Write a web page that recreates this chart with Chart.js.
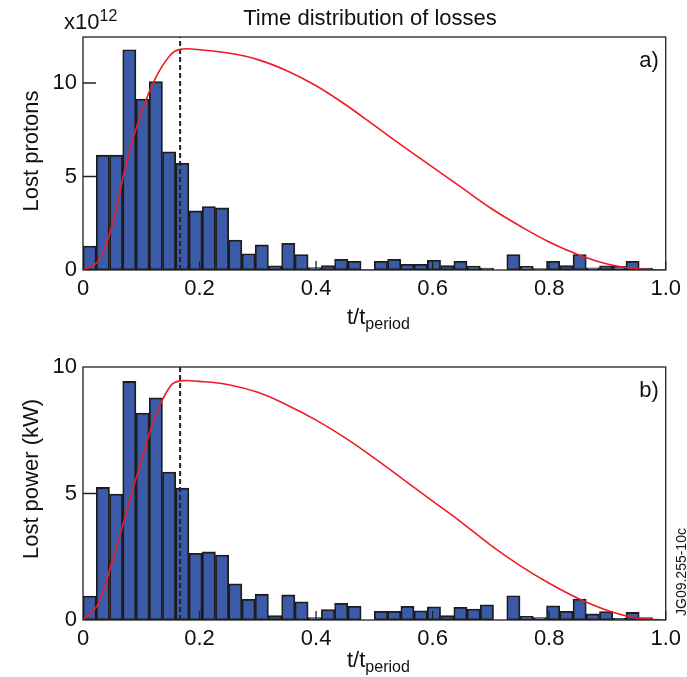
<!DOCTYPE html>
<html>
<head>
<meta charset="utf-8">
<script src="https://cdn.jsdelivr.net/npm/chart.js@4.4.1/dist/chart.umd.min.js"></script>
<style>
  html, body { margin: 0; padding: 0; background: #fff; }
  #wrap { position: relative; width: 687px; height: 677px; font-family: "Liberation Sans", Arial, sans-serif; color: #111; }
  canvas { position: absolute; left: 0; }
  .lbl { position: absolute; white-space: nowrap; line-height: 1; }
  .rot { transform: translate(-50%, -50%) rotate(-90deg); }
  .ctr { transform: translate(-50%, -50%); }
  sub, sup { font-size: 16px; line-height: 0; }
</style>
</head>
<body>
<div id="wrap">
  <canvas id="chart-a" width="687" height="338" style="top:0"></canvas>
  <canvas id="chart-b" width="687" height="339" style="top:338px"></canvas>

  <div class="lbl ctr" style="left:370px;top:18px;font-size:22px">Time distribution of losses</div>
  <div class="lbl" style="left:64px;top:11px;font-size:22px">x10<sup>12</sup></div>
  <div class="lbl ctr" style="left:649px;top:60px;font-size:22px">a)</div>
  <div class="lbl ctr" style="left:649px;top:390px;font-size:22px">b)</div>
  <div class="lbl rot" style="left:31px;top:151px;font-size:22px">Lost protons</div>
  <div class="lbl rot" style="left:31px;top:479px;font-size:22px">Lost power (kW)</div>
  <div class="lbl" style="left:347px;top:306px;font-size:22px">t/t<sub>period</sub></div>
  <div class="lbl" style="left:347px;top:649px;font-size:22px">t/t<sub>period</sub></div>
  <div class="lbl rot" style="left:681px;top:572px;font-size:14px">JG09.255-10c</div>
</div>

<script>
// --- histogram bins (t / t_period from 0 to 1) ---
const binCount = 44;
const binCenters = Array.from({ length: binCount }, (_, i) => (i + 0.5) / binCount);

// lost protons per bin (x10^12)
const lostProtons = [
  1.28, 6.14, 6.14, 11.78, 9.14, 10.08, 6.32, 5.71, 3.16, 3.39, 3.32,
  1.6, 0.87, 1.34, 0.22, 1.43, 0.82, 0.13, 0.23, 0.57, 0.47, 0.02,
  0.47, 0.57, 0.3, 0.3, 0.52, 0.23, 0.47, 0.21, 0.1, 0, 0.82,
  0.2, 0.07, 0.47, 0.23, 0.82, 0.12, 0.22, 0.2, 0.47, 0.1, 0
];

// lost power per bin (kW)
const lostPower = [
  0.95, 5.24, 4.98, 9.43, 8.18, 8.78, 5.85, 5.21, 2.64, 2.69, 2.57,
  1.43, 0.82, 1.02, 0.17, 0.99, 0.72, 0.1, 0.41, 0.66, 0.54, 0,
  0.34, 0.34, 0.54, 0.36, 0.52, 0.17, 0.5, 0.43, 0.6, 0, 0.96,
  0.15, 0.1, 0.56, 0.34, 0.83, 0.24, 0.33, 0.07, 0.3, 0.1, 0
];

// red reference curve
const curveT = [0, 0.025, 0.05, 0.075, 0.1, 0.125, 0.15, 0.1667, 0.2, 0.25, 0.3, 0.35, 0.4,
  0.45, 0.5, 0.55, 0.6, 0.65, 0.7, 0.75, 0.8, 0.85, 0.9, 0.95, 1.0];
const curveProtons = [0, 0.45, 2.4, 5.8, 8.4, 10.3, 11.5, 11.8, 11.78, 11.6, 11.25, 10.65, 9.85,
  8.85, 7.73, 6.6, 5.5, 4.4, 3.3, 2.35, 1.5, 0.82, 0.32, 0.07, 0];
const curvePower = [0, 0.6, 2.3, 4.3, 6.3, 8.1, 9.25, 9.45, 9.43, 9.3, 9.0, 8.5, 7.9,
  7.2, 6.4, 5.55, 4.7, 3.85, 2.95, 2.15, 1.45, 0.85, 0.38, 0.08, 0];

const peakT = 1 / 6;
const xTicks = [0, 0.2, 0.4, 0.6, 0.8, 1.0];
const yTicks = [0, 5, 10];

const FONT = "'Liberation Sans', Arial, sans-serif";

// frame box + inward tick marks
const frameTicks = {
  id: "frameTicks",
  afterDatasetsDraw(chart) {
    const { ctx, chartArea: a, scales: { x, y } } = chart;
    ctx.save();
    ctx.strokeStyle = "#222";
    ctx.lineWidth = 1.3;
    ctx.beginPath();
    y.ticks.forEach((t) => {
      if (t.value <= y.min || t.value >= y.max) return;
      const py = y.getPixelForValue(t.value);
      ctx.moveTo(a.left, py);
      ctx.lineTo(a.left + 13, py);
    });
    x.ticks.forEach((t) => {
      if (t.value <= x.min) return;
      const px = x.getPixelForValue(t.value);
      ctx.moveTo(px, a.bottom);
      ctx.lineTo(px, a.bottom - 9);
    });
    ctx.stroke();
    ctx.strokeRect(a.left, a.top, a.width, a.height);
    ctx.restore();
  }
};

function makeChart(id, values, curve, yMax, cfg) {
  const ctx = document.getElementById(id).getContext("2d");
  return new Chart(ctx, {
    type: "bar",
    data: {
      datasets: [
        {
          type: "line",
          data: curveT.map((t, i) => ({ x: t, y: curve[i] })),
          borderColor: "#ee1c25",
          borderWidth: 1.6,
          pointRadius: 0,
          tension: 0.4,
          order: 1
        },
        {
          type: "line",
          data: [{ x: peakT, y: 0 }, { x: peakT, y: yMax }],
          borderColor: "#222",
          borderWidth: 2,
          borderDash: [5, 3],
          pointRadius: 0,
          order: 2
        },
        {
          type: "bar",
          data: binCenters.map((c, i) => ({ x: c, y: values[i] })),
          backgroundColor: "#3b5ba8",
          borderColor: "#1c1c1c",
          borderWidth: 1.8,
          borderSkipped: false,
          barPercentage: 1,
          categoryPercentage: 1,
          order: 3
        }
      ]
    },
    options: {
      responsive: false,
      animation: false,
      events: [],
      layout: { padding: { top: cfg.top, right: 18, left: 0, bottom: 0 } },
      plugins: { legend: { display: false }, tooltip: { enabled: false } },
      scales: {
        x: {
          type: "linear",
          min: 0,
          max: 1,
          offset: false,
          grid: { display: false, drawTicks: false },
          border: { display: false },
          afterBuildTicks: (s) => { s.ticks = xTicks.map((v) => ({ value: v })); },
          afterFit: (s) => { s.height = cfg.xHeight; },
          ticks: {
            padding: 6,
            color: "#111",
            font: { family: FONT, size: 22 },
            callback: (v) => (v === 0 ? "0" : v.toFixed(1))
          }
        },
        y: {
          min: 0,
          max: yMax,
          grid: { display: false, drawTicks: false },
          border: { display: false },
          afterBuildTicks: (s) => { s.ticks = yTicks.map((v) => ({ value: v })); },
          afterFit: (s) => { s.width = 83; },
          ticks: {
            padding: 6,
            color: "#111",
            font: { family: FONT, size: 22 }
          }
        }
      }
    },
    plugins: [frameTicks]
  });
}

makeChart("chart-a", lostProtons, curveProtons, 12.46, { top: 37, xHeight: 68 });
makeChart("chart-b", lostPower, curvePower, 10, { top: 29, xHeight: 57 });
</script>
</body>
</html>
